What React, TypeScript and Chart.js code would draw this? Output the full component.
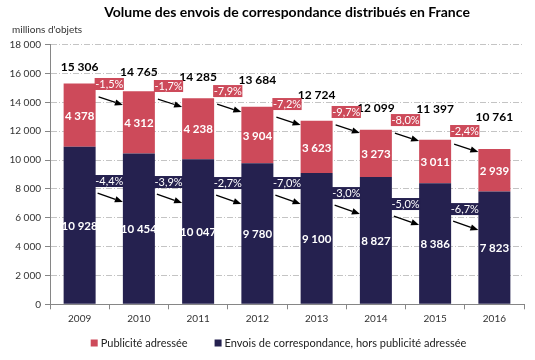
import React, { useEffect, useRef } from "react";
import { Chart, registerables } from "chart.js";

Chart.register(...registerables);

// ---- data ----
const years = ["2009", "2010", "2011", "2012", "2013", "2014", "2015", "2016"];
const pubAdressee = [4378, 4312, 4238, 3904, 3623, 3273, 3011, 2939];
const envoisHorsPub = [10928, 10454, 10047, 9780, 9100, 8827, 8386, 7823];
const totals = [15306, 14765, 14285, 13684, 12724, 12099, 11397, 10761];
const pubChange = ["-1,5%", "-1,7%", "-7,9%", "-7,2%", "-9,7%", "-8,0%", "-2,4%"];
const envoisChange = ["-4,4%", "-3,9%", "-2,7%", "-7,0%", "-3,0%", "-5,0%", "-6,7%"];
const yMin = 0;
const yMax = 18000;
const yStep = 2000;

// ---- annotation placement (axis units / px) ----
const pubChangeLabelAt = [15270, 15130, 14780, 13880, 13330, 12770, 12010];
const envoisChangeLabelAt = [8545, 8475, 8405, 8405, 7710, 6950, 6600];
const totalLabelLift = [16, 19, 21, 27, 26, 22, 31, 32];

const RED = "#CD4A5A";
const NAVY = "#25214F";
const FONT = "Lato, 'Open Sans', sans-serif";

const fmt = (n: number) => String(n).replace(/\B(?=(\d{3})+(?!\d))/g, " ");

function drawArrow(ctx: CanvasRenderingContext2D, x1: number, y1: number, x2: number, y2: number) {
  const ang = Math.atan2(y2 - y1, x2 - x1);
  const headLen = 8;
  const headW = 3.2;
  const bx = x2 - headLen * Math.cos(ang);
  const by = y2 - headLen * Math.sin(ang);
  ctx.save();
  ctx.strokeStyle = "#000";
  ctx.fillStyle = "#000";
  ctx.lineWidth = 1.3;
  ctx.beginPath();
  ctx.moveTo(x1, y1);
  ctx.lineTo(bx, by);
  ctx.stroke();
  ctx.beginPath();
  ctx.moveTo(x2, y2);
  ctx.lineTo(bx + headW * Math.sin(ang), by - headW * Math.cos(ang));
  ctx.lineTo(bx - headW * Math.sin(ang), by + headW * Math.cos(ang));
  ctx.closePath();
  ctx.fill();
  ctx.restore();
}

const annotations = {
  id: "annotations",
  afterDatasetsDraw(chart: any) {
    const ctx: CanvasRenderingContext2D = chart.ctx;
    const area = chart.chartArea;
    const yScale = chart.scales.y;
    const navyMeta = chart.getDatasetMeta(0);
    const redMeta = chart.getDatasetMeta(1);
    ctx.save();

    // segment labels
    ctx.textAlign = "center";
    ctx.textBaseline = "middle";
    ctx.fillStyle = "#fff";
    ctx.font = `bold 11.5px ${FONT}`;
    navyMeta.data.forEach((el: any, i: number) => {
      ctx.fillText(fmt(envoisHorsPub[i]), el.x, (el.y + el.base) / 2 + 1);
    });
    redMeta.data.forEach((el: any, i: number) => {
      ctx.fillText(fmt(pubAdressee[i]), el.x, (el.y + el.base) / 2 + 1);
    });

    // totals
    ctx.fillStyle = "#000";
    ctx.font = `bold 12px ${FONT}`;
    redMeta.data.forEach((el: any, i: number) => {
      ctx.fillText(fmt(totals[i]), el.x, el.y - totalLabelLift[i]);
    });

    // change labels + arrows in gaps
    const boxH = 12;
    ctx.font = `11px ${FONT}`;
    for (let i = 0; i < years.length - 1; i++) {
      const a: any = redMeta.data[i];
      const b: any = redMeta.data[i + 1];
      const gl = a.x + a.width / 2 - 1;
      const gr = b.x - b.width / 2 + 1;
      const gw = gr - gl;

      // red (publicité)
      let cy = yScale.getPixelForValue(pubChangeLabelAt[i]);
      ctx.fillStyle = RED;
      ctx.fillRect(gl, cy - boxH / 2, gw, boxH);
      ctx.fillStyle = "#fff";
      ctx.fillText(pubChange[i], (gl + gr) / 2, cy + 0.5);
      drawArrow(ctx, gl + 4, cy + 13, gr - 1, cy + 21);

      // navy (envois)
      cy = yScale.getPixelForValue(envoisChangeLabelAt[i]);
      ctx.fillStyle = NAVY;
      ctx.fillRect(gl, cy - boxH / 2, gw, boxH);
      ctx.fillStyle = "#fff";
      ctx.fillText(envoisChange[i], (gl + gr) / 2, cy + 0.5);
      drawArrow(ctx, gl + 3, cy + 12, gr - 1, cy + 21);
    }

    // title
    ctx.textBaseline = "alphabetic";
    ctx.fillStyle = "#000";
    ctx.font = `bold 14px ${FONT}`;
    ctx.fillText(
      "Volume des envois de correspondance distribués en France",
      (area.left + area.right) / 2,
      17
    );

    // unit
    ctx.textAlign = "left";
    ctx.fillStyle = "#333";
    ctx.font = `10px ${FONT}`;
    ctx.fillText("millions d'objets", 12, 33);

    // legend
    ctx.font = `11px ${FONT}`;
    const items = [
      { label: chart.data.datasets[1].label, color: RED },
      { label: chart.data.datasets[0].label, color: NAVY },
    ];
    const sq = 7;
    const tg = 3;
    const ig = 27;
    const widths = items.map((it) => sq + tg + ctx.measureText(it.label).width);
    const total = widths.reduce((s, w) => s + w, 0) + ig * (items.length - 1);
    let x = chart.width / 2 + 11 - total / 2;
    const base = 347;
    items.forEach((it, k) => {
      ctx.fillStyle = it.color;
      ctx.fillRect(x, base - 7.5, sq, sq);
      ctx.fillStyle = "#222";
      ctx.fillText(it.label, x + sq + tg, base);
      x += widths[k] + ig;
    });

    ctx.restore();
  },
};

export default function App() {
  const ref = useRef<HTMLCanvasElement | null>(null);
  useEffect(() => {
    if (!ref.current) return;
    Chart.defaults.font.family = FONT;
    const chart = new Chart(ref.current, {
      type: "bar",
      data: {
        labels: years,
        datasets: [
          {
            label: "Envois de correspondance, hors publicité adressée",
            data: envoisHorsPub,
            backgroundColor: NAVY,
            borderWidth: 0,
            categoryPercentage: 1,
            barPercentage: 0.54,
          },
          {
            label: "Publicité adressée",
            data: pubAdressee,
            backgroundColor: RED,
            borderWidth: 0,
            categoryPercentage: 1,
            barPercentage: 0.54,
          },
        ],
      },
      options: {
        responsive: false,
        animation: false,
        devicePixelRatio: 1,
        layout: { padding: { left: 0, right: 11, top: 44.6, bottom: 29.7 } },
        plugins: {
          legend: { display: false },
          title: { display: false },
          tooltip: { enabled: false },
        },
        scales: {
          x: {
            stacked: true,
            afterFit: (s: any) => {
              s.height = 26;
            },
            grid: {
              offset: true,
              drawOnChartArea: false,
              drawTicks: true,
              tickLength: 5,
              tickColor: "#868686",
            },
            border: { display: true, color: "#868686", width: 1 },
            ticks: { color: "#333", font: { size: 10, family: FONT }, padding: 3 },
          },
          y: {
            stacked: true,
            min: yMin,
            max: yMax,
            afterFit: (s: any) => {
              s.width = 50;
            },
            ticks: {
              stepSize: yStep,
              color: "#333",
              font: { size: 10, family: FONT },
              padding: 4,
              callback: (v: any) => fmt(Number(v)),
            },
            grid: {
              color: "#c4c4c4",
              lineWidth: 1,
              tickLength: 5,
              tickColor: "#868686",
              tickBorderDash: [],
            },
            border: { display: true, color: "#868686", width: 1, dash: [6, 2, 1, 2] },
          },
        },
      },
      plugins: [annotations],
    });
    return () => chart.destroy();
  }, []);
  return (
    <div style={{ position: "absolute", left: 0, top: 0, width: 535, height: 360, background: "#fff" }}>
      <canvas ref={ref} width={535} height={360} />
    </div>
  );
}
